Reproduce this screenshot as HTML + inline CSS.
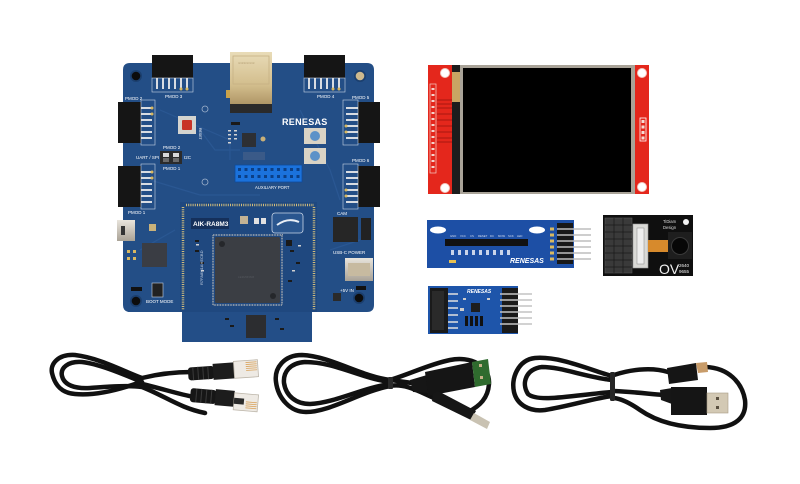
<!DOCTYPE html>
<html><head><meta charset="utf-8"><style>
html,body{margin:0;padding:0;background:#fff;width:800px;height:484px;overflow:hidden}
svg{display:block}
text{font-family:"Liberation Sans",sans-serif}
</style></head><body>
<svg width="800" height="484" viewBox="0 0 800 484" xmlns="http://www.w3.org/2000/svg">
<defs>
 <linearGradient id="eth" x1="0" y1="0" x2="0" y2="1"><stop offset="0" stop-color="#e9dcb8"/><stop offset="0.6" stop-color="#d2bd8c"/><stop offset="1" stop-color="#a88e5e"/></linearGradient>
 <linearGradient id="metal" x1="0" y1="0" x2="0" y2="1"><stop offset="0" stop-color="#e8e4dc"/><stop offset="1" stop-color="#a9a296"/></linearGradient>
 <linearGradient id="gold" x1="0" y1="0" x2="1" y2="0"><stop offset="0" stop-color="#e6d2a8"/><stop offset="1" stop-color="#b89868"/></linearGradient>
</defs>
<rect width="800" height="484" fill="#fff"/>

<!-- ================= MAIN BOARD ================= -->
<path d="M130,63 H367 Q374,63 374,70 V305 Q374,312 367,312 H317 V312 H312 V342 H182 V312 H130 Q123,312 123,305 V70 Q123,63 130,63 Z" fill="#234e86"/>
<!-- subtle traces -->
<g stroke="#2c5a96" stroke-width="1.2" fill="none" opacity="0.8">
 <path d="M160,110 L230,140 L230,160"/><path d="M150,180 L200,195 L260,195"/><path d="M300,110 L330,170 L340,200"/>
 <path d="M140,250 L175,230"/><path d="M330,250 L360,240"/><path d="M200,130 L215,150 L240,150"/>
</g>
<!-- mounting holes -->
<circle cx="136" cy="76" r="6" fill="#1b3f6f"/><circle cx="136" cy="76" r="4.3" fill="#0c0c0c"/>
<circle cx="360" cy="76" r="6" fill="#1b3f6f"/><circle cx="360" cy="76" r="4.3" fill="#cdb98e"/>
<circle cx="136" cy="301" r="6" fill="#1b3f6f"/><circle cx="136" cy="301" r="4.3" fill="#0c0c0c"/>
<circle cx="359" cy="298" r="6" fill="#1b3f6f"/><circle cx="359" cy="298" r="4.3" fill="#0c0c0c"/>

<!-- PMOD 3 top -->
<rect x="152" y="55" width="41" height="23" fill="#151515"/>
<rect x="152" y="78" width="41" height="14" fill="none" stroke="#c9d4e4" stroke-width="0.6"/>
<g stroke="#ececec" stroke-width="1.8"><line x1="157" y1="78" x2="157" y2="89"/><line x1="163" y1="78" x2="163" y2="89"/><line x1="169" y1="78" x2="169" y2="89"/><line x1="175" y1="78" x2="175" y2="89"/><line x1="181" y1="78" x2="181" y2="89"/><line x1="187" y1="78" x2="187" y2="89"/></g>
<circle cx="181" cy="89" r="1.5" fill="#d8b860"/><circle cx="187" cy="89" r="1.5" fill="#d8b860"/>
<text x="165" y="98" font-size="4.5" fill="#fff">PMOD 3</text>
<!-- PMOD 4 top -->
<rect x="304" y="55" width="41" height="23" fill="#151515"/>
<rect x="304" y="78" width="41" height="14" fill="none" stroke="#c9d4e4" stroke-width="0.6"/>
<g stroke="#ececec" stroke-width="1.8"><line x1="309" y1="78" x2="309" y2="89"/><line x1="315" y1="78" x2="315" y2="89"/><line x1="321" y1="78" x2="321" y2="89"/><line x1="327" y1="78" x2="327" y2="89"/><line x1="333" y1="78" x2="333" y2="89"/><line x1="339" y1="78" x2="339" y2="89"/></g>
<circle cx="333" cy="89" r="1.5" fill="#d8b860"/><circle cx="339" cy="89" r="1.5" fill="#d8b860"/>
<text x="317" y="98" font-size="4.5" fill="#fff">PMOD 4</text>
<!-- Ethernet -->
<rect x="226" y="90" width="5" height="8" fill="#c9a24a"/>
<rect x="230" y="52" width="42" height="56" fill="url(#eth)"/>
<rect x="233" y="56" width="36" height="28" fill="none" stroke="#c6b184" stroke-width="0.8"/>
<rect x="230" y="104" width="42" height="9" fill="#2a2a2a"/>
<text x="238" y="64" font-size="3" fill="#b9a47a">ЖЖЖЖЖЖ</text>

<!-- PMOD 2 left -->
<rect x="118" y="102" width="23" height="41" fill="#151515"/>
<rect x="141" y="100" width="14" height="45" fill="none" stroke="#c9d4e4" stroke-width="0.6"/>
<g stroke="#ececec" stroke-width="1.8"><line x1="141" y1="108" x2="152" y2="108"/><line x1="141" y1="114" x2="152" y2="114"/><line x1="141" y1="120" x2="152" y2="120"/><line x1="141" y1="126" x2="152" y2="126"/><line x1="141" y1="132" x2="152" y2="132"/><line x1="141" y1="138" x2="152" y2="138"/></g>
<circle cx="152" cy="108" r="1.5" fill="#d8b860"/><circle cx="152" cy="114" r="1.5" fill="#d8b860"/>
<text x="125" y="100" font-size="4.5" fill="#fff">PMOD 2</text>
<!-- PMOD 1 left -->
<rect x="118" y="166" width="23" height="41" fill="#151515"/>
<rect x="141" y="164" width="14" height="45" fill="none" stroke="#c9d4e4" stroke-width="0.6"/>
<g stroke="#ececec" stroke-width="1.8"><line x1="141" y1="172" x2="152" y2="172"/><line x1="141" y1="178" x2="152" y2="178"/><line x1="141" y1="184" x2="152" y2="184"/><line x1="141" y1="190" x2="152" y2="190"/><line x1="141" y1="196" x2="152" y2="196"/><line x1="141" y1="202" x2="152" y2="202"/></g>
<circle cx="152" cy="172" r="1.5" fill="#d8b860"/><circle cx="152" cy="178" r="1.5" fill="#d8b860"/>
<text x="128" y="214" font-size="4.5" fill="#fff">PMOD 1</text>
<!-- PMOD 5 right -->
<rect x="358" y="102" width="22" height="41" fill="#151515"/>
<rect x="343" y="100" width="15" height="45" fill="none" stroke="#c9d4e4" stroke-width="0.6"/>
<g stroke="#ececec" stroke-width="1.8"><line x1="346" y1="108" x2="358" y2="108"/><line x1="346" y1="114" x2="358" y2="114"/><line x1="346" y1="120" x2="358" y2="120"/><line x1="346" y1="126" x2="358" y2="126"/><line x1="346" y1="132" x2="358" y2="132"/><line x1="346" y1="138" x2="358" y2="138"/></g>
<circle cx="346" cy="126" r="1.5" fill="#d8b860"/><circle cx="346" cy="132" r="1.5" fill="#d8b860"/>
<text x="352" y="99" font-size="4.5" fill="#fff">PMOD 5</text>
<!-- PMOD 6 right -->
<rect x="358" y="166" width="22" height="41" fill="#151515"/>
<rect x="343" y="164" width="15" height="45" fill="none" stroke="#c9d4e4" stroke-width="0.6"/>
<g stroke="#ececec" stroke-width="1.8"><line x1="346" y1="172" x2="358" y2="172"/><line x1="346" y1="178" x2="358" y2="178"/><line x1="346" y1="184" x2="358" y2="184"/><line x1="346" y1="190" x2="358" y2="190"/><line x1="346" y1="196" x2="358" y2="196"/><line x1="346" y1="202" x2="358" y2="202"/></g>
<circle cx="346" cy="190" r="1.5" fill="#d8b860"/><circle cx="346" cy="196" r="1.5" fill="#d8b860"/>
<text x="352" y="162" font-size="4.5" fill="#fff">PMOD 6</text>

<!-- reset -->
<rect x="178" y="116" width="18" height="18" fill="#d4d4cf"/>
<rect x="182" y="120" width="10" height="10" fill="#c83428" rx="1"/>
<text x="199" y="128" font-size="3.5" fill="#fff" transform="rotate(90 199 128)">RESET</text>
<!-- UART/SPI switch -->
<rect x="160" y="151" width="22" height="13" fill="#2b2b2b"/>
<rect x="163" y="153" width="6" height="4" fill="#d8d8d8"/><rect x="173" y="153" width="6" height="4" fill="#d8d8d8"/>
<rect x="163" y="158" width="6" height="4" fill="#6a6a6a"/><rect x="173" y="158" width="6" height="4" fill="#6a6a6a"/>
<text x="163" y="149" font-size="4.5" fill="#fff">PMOD 2</text>
<text x="136" y="159" font-size="4.5" fill="#fff">UART / SPI</text>
<text x="184" y="159" font-size="4.5" fill="#fff">I2C</text>
<text x="163" y="170" font-size="4.5" fill="#fff">PMOD 1</text>
<!-- center ICs -->
<rect x="242" y="133" width="14" height="14" fill="#2d2f33"/>
<rect x="231" y="122" width="9" height="3" fill="#1a1a1a"/>
<circle cx="263" cy="139" r="2.5" fill="#c8b078"/>
<g fill="#d4d4d4"><rect x="228" y="130" width="3" height="1.5"/><rect x="228" y="134" width="3" height="1.5"/><rect x="228" y="138" width="3" height="1.5"/><rect x="228" y="142" width="3" height="1.5"/><rect x="234" y="130" width="3" height="1.5"/><rect x="234" y="134" width="3" height="1.5"/><rect x="234" y="138" width="3" height="1.5"/></g>
<rect x="243" y="152" width="22" height="8" fill="#3a5a88"/>
<!-- RENESAS logo -->
<text x="282" y="125" font-size="9" font-weight="bold" fill="#fff" letter-spacing="0.3">RENESAS</text>
<!-- blue buttons -->
<rect x="304" y="128" width="22" height="16" fill="#d9d3c5"/><circle cx="315" cy="136" r="5" fill="#5d92c8"/>
<rect x="304" y="148" width="22" height="16" fill="#d9d3c5"/><circle cx="315" cy="156" r="5" fill="#5d92c8"/>
<!-- aux port -->
<rect x="235" y="165" width="67" height="17" fill="#1b72dc" stroke="#0f4c9a" stroke-width="0.8"/>
<g fill="#0b3f86">
<rect x="238" y="168" width="3" height="3"/><rect x="244.5" y="168" width="3" height="3"/><rect x="251" y="168" width="3" height="3"/><rect x="257.5" y="168" width="3" height="3"/><rect x="264" y="168" width="3" height="3"/><rect x="270.5" y="168" width="3" height="3"/><rect x="277" y="168" width="3" height="3"/><rect x="283.5" y="168" width="3" height="3"/><rect x="290" y="168" width="3" height="3"/><rect x="296.5" y="168" width="3" height="3"/>
<rect x="238" y="175" width="3" height="3"/><rect x="244.5" y="175" width="3" height="3"/><rect x="251" y="175" width="3" height="3"/><rect x="257.5" y="175" width="3" height="3"/><rect x="264" y="175" width="3" height="3"/><rect x="270.5" y="175" width="3" height="3"/><rect x="277" y="175" width="3" height="3"/><rect x="283.5" y="175" width="3" height="3"/><rect x="290" y="175" width="3" height="3"/><rect x="296.5" y="175" width="3" height="3"/>
</g>
<text x="255" y="189" font-size="4.2" fill="#fff">AUXILIARY PORT</text>
<circle cx="205" cy="182" r="3" fill="none" stroke="#9fb2cc" stroke-width="0.8"/>
<circle cx="205" cy="109" r="3" fill="none" stroke="#9fb2cc" stroke-width="0.8"/>

<!-- left lower area -->
<rect x="117" y="220" width="18" height="21" fill="url(#metal)"/>
<rect x="121" y="226" width="4" height="9" fill="#333"/>
<rect x="142" y="243" width="25" height="24" fill="#3a3d44"/>
<rect x="149" y="224" width="7" height="7" fill="#c9b27a"/>
<g fill="#d8b860"><rect x="127" y="250" width="3" height="3"/><rect x="133" y="250" width="3" height="3"/><rect x="127" y="257" width="3" height="3"/><rect x="133" y="257" width="3" height="3"/></g>
<rect x="131" y="287" width="11" height="4" fill="#111"/>
<rect x="152" y="283" width="11" height="14" fill="#222" stroke="#c9d4e4" stroke-width="0.6"/>
<text x="146" y="303" font-size="4.5" fill="#fff">BOOT MODE</text>

<!-- right lower area -->
<rect x="333" y="217" width="25" height="25" fill="#262626"/>
<rect x="361" y="218" width="10" height="22" fill="#222"/>
<text x="337" y="215" font-size="4.5" fill="#fff">CAM</text>
<text x="333" y="254" font-size="4.5" fill="#fff">USB-C POWER</text>
<rect x="345" y="258" width="28" height="23" fill="url(#metal)"/>
<rect x="348" y="263" width="22" height="13" fill="#c7baa0"/>
<text x="340" y="292" font-size="4.5" fill="#fff">+5V IN</text>
<rect x="356" y="286" width="10" height="4" fill="#111"/>
<rect x="333" y="293" width="8" height="8" fill="#2a2a2a"/>

<!-- ======== MODULE ======== -->
<rect x="180" y="202" width="137" height="110" fill="#1f487f"/>
<rect x="182" y="312" width="130" height="30" fill="#234e87"/>
<g stroke="#d2bd7c" stroke-width="2.5" stroke-dasharray="1 1.2" fill="none">
 <line x1="183" y1="207" x2="183" y2="310"/>
 <line x1="186" y1="205" x2="314" y2="205"/>
 <line x1="314" y1="207" x2="314" y2="310"/>
</g>
<rect x="191" y="218" width="38" height="11" fill="#15305b"/>
<text x="193" y="226" font-size="6.5" font-weight="bold" fill="#fff">AIK-RA8M3</text>
<rect x="272" y="213" width="31" height="20" rx="3" fill="#2a568f" stroke="#c9d5e6" stroke-width="0.8"/>
<path d="M277,225 Q288,217 299,222" stroke="#e8eef6" stroke-width="2" fill="none"/>
<rect x="240" y="216" width="8" height="8" fill="#c2b294"/>
<rect x="254" y="218" width="5" height="6" fill="#e0e0e0"/><rect x="261" y="218" width="5" height="6" fill="#e0e0e0"/>
<!-- MCU -->
<rect x="213" y="235" width="69" height="70" fill="none" stroke="#9aa2ac" stroke-width="2" stroke-dasharray="0.8 0.8"/>
<rect x="215" y="237" width="65" height="66" fill="#3b3e44" rx="1.5"/>
<circle cx="222" cy="244" r="3" fill="#25272b"/><circle cx="273" cy="296" r="3" fill="#25272b"/>
<text x="238" y="278" font-size="3" fill="#55585e">LE3M3NSM</text>
<!-- misc smd -->
<g fill="#1a1a1a"><rect x="195" y="240" width="4" height="2"/><rect x="195" y="250" width="4" height="2"/><rect x="200" y="262" width="4" height="2"/><rect x="290" y="250" width="4" height="2"/><rect x="296" y="262" width="4" height="2"/><rect x="288" y="280" width="4" height="2"/><rect x="286" y="240" width="6" height="6"/></g>
<g fill="#d0d0d0"><rect x="196" y="244" width="3" height="1.5"/><rect x="201" y="270" width="3" height="1.5"/><rect x="292" y="270" width="3" height="1.5"/><rect x="298" y="245" width="3" height="1.5"/></g>
<text x="203" y="285" font-size="4" fill="#c9d4e4" transform="rotate(-90 203 285)">R7FA8M1AHECBD</text>
<!-- tab chip -->
<rect x="246" y="315" width="20" height="23" fill="#2c2d30"/>
<g fill="#1a1a1a"><rect x="225" y="318" width="4" height="2"/><rect x="230" y="325" width="4" height="2"/><rect x="275" y="318" width="4" height="2"/><rect x="280" y="328" width="4" height="2"/></g>

<!-- ================= LCD ================= -->
<rect x="428" y="65" width="221" height="129" fill="#e4271c"/>
<rect x="452" y="65" width="10" height="129" fill="#1d1d1d"/>
<rect x="452" y="72" width="9" height="30" fill="#c9a563"/>
<rect x="460" y="65" width="175" height="129" fill="#a9a398"/>
<rect x="463" y="68" width="168" height="124" fill="#000"/>
<g fill="#fff" stroke="#f3c8c0" stroke-width="1"><circle cx="445" cy="73" r="4.5"/><circle cx="445" cy="188" r="4.5"/><circle cx="642" cy="73" r="4.5"/><circle cx="642" cy="187" r="4.5"/></g>
<rect x="430" y="84" width="6" height="89" fill="none" stroke="#f4d0c8" stroke-width="0.7"/>
<g fill="#f4d6ce"><rect x="431.5" y="88" width="3" height="2"/><rect x="431.5" y="94" width="3" height="2"/><rect x="431.5" y="100" width="3" height="2"/><rect x="431.5" y="106" width="3" height="2"/><rect x="431.5" y="112" width="3" height="2"/><rect x="431.5" y="118" width="3" height="2"/><rect x="431.5" y="124" width="3" height="2"/><rect x="431.5" y="130" width="3" height="2"/><rect x="431.5" y="136" width="3" height="2"/><rect x="431.5" y="142" width="3" height="2"/><rect x="431.5" y="148" width="3" height="2"/><rect x="431.5" y="154" width="3" height="2"/><rect x="431.5" y="160" width="3" height="2"/><rect x="431.5" y="166" width="3" height="2"/></g>
<g stroke="#a8170f" stroke-width="1"><line x1="437" y1="100" x2="452" y2="100"/><line x1="437" y1="104" x2="452" y2="104"/><line x1="437" y1="108" x2="452" y2="108"/><line x1="437" y1="114" x2="452" y2="114"/><line x1="437" y1="120" x2="452" y2="120"/><line x1="437" y1="126" x2="452" y2="126"/><line x1="437" y1="132" x2="452" y2="132"/><line x1="437" y1="138" x2="452" y2="138"/><line x1="437" y1="142" x2="452" y2="142"/></g>
<rect x="640" y="118" width="6" height="23" fill="none" stroke="#fff" stroke-width="0.8"/>
<g fill="#f6ddd6"><rect x="641.5" y="120" width="3" height="3"/><rect x="641.5" y="125.5" width="3" height="3"/><rect x="641.5" y="131" width="3" height="3"/><rect x="641.5" y="136.5" width="3" height="3"/></g>

<!-- ================= BLUE LONG BOARD ================= -->
<rect x="427" y="220" width="147" height="48" fill="#1d4fa5"/>
<ellipse cx="438" cy="230" rx="8" ry="3.5" fill="#fff"/>
<ellipse cx="537" cy="230" rx="8" ry="3.5" fill="#fff"/>
<rect x="445" y="239" width="83" height="7" fill="#111"/>
<g fill="#c9d4ea"><rect x="451" y="250" width="3" height="5"/><rect x="458" y="250" width="3" height="5"/><rect x="465" y="250" width="3" height="5"/><rect x="472" y="250" width="3" height="5"/><rect x="479" y="250" width="3" height="5"/><rect x="486" y="250" width="3" height="5"/><rect x="493" y="250" width="3" height="5"/><rect x="500" y="250" width="3" height="5"/><rect x="507" y="250" width="3" height="5"/></g>
<g fill="#d4dcee" font-size="2.8"><text x="450" y="237">GND</text><text x="460" y="237">VCC</text><text x="470" y="237">CS</text><text x="478" y="237">RESET</text><text x="490" y="237">DC</text><text x="498" y="237">MOSI</text><text x="508" y="237">SCK</text><text x="517" y="237">LED</text></g>
<text x="510" y="263" font-size="7" font-weight="bold" font-style="italic" fill="#fff">RENESAS</text>
<rect x="449" y="260" width="7" height="3" fill="#e8c050"/>
<rect x="557" y="223" width="16" height="41" fill="#181818"/>
<g stroke="#bdbdbd" stroke-width="1.6"><line x1="557" y1="229" x2="591" y2="229"/><line x1="557" y1="235" x2="591" y2="235"/><line x1="557" y1="241" x2="591" y2="241"/><line x1="557" y1="247" x2="591" y2="247"/><line x1="557" y1="253" x2="591" y2="253"/><line x1="557" y1="259" x2="591" y2="259"/></g>
<g fill="#d8b860"><rect x="550" y="227.5" width="4" height="3"/><rect x="550" y="233.5" width="4" height="3"/><rect x="550" y="239.5" width="4" height="3"/><rect x="550" y="245.5" width="4" height="3"/><rect x="550" y="251.5" width="4" height="3"/><rect x="550" y="257.5" width="4" height="3"/></g>

<!-- ================= SMALL PMOD BOARD ================= -->
<rect x="428" y="286" width="90" height="48" fill="#1e55aa"/>
<rect x="430" y="288" width="18" height="45" fill="#1a1a1a"/>
<rect x="432" y="291" width="12" height="39" fill="#2a2a2a"/>
<g stroke="#e0e0e0" stroke-width="1.5"><line x1="448" y1="294" x2="458" y2="294"/><line x1="448" y1="301" x2="458" y2="301"/><line x1="448" y1="308" x2="458" y2="308"/><line x1="448" y1="315" x2="458" y2="315"/><line x1="448" y1="322" x2="458" y2="322"/><line x1="448" y1="328" x2="458" y2="328"/></g>
<text x="467" y="293" font-size="5" font-weight="bold" font-style="italic" fill="#fff">RENESAS</text>
<rect x="471" y="303" width="9" height="9" fill="#1d1d1d"/>
<g fill="#111"><rect x="465" y="316" width="3" height="10"/><rect x="470" y="316" width="3" height="10"/><rect x="475" y="316" width="3" height="10"/><rect x="480" y="316" width="3" height="10"/></g>
<g fill="#ccc"><rect x="463" y="298" width="3" height="2"/><rect x="487" y="298" width="3" height="2"/><rect x="460" y="308" width="4" height="3"/></g>
<rect x="502" y="288" width="16" height="45" fill="#1a1a1a"/>
<g stroke="#c4c4c4" stroke-width="1.6"><line x1="500" y1="294" x2="532" y2="294"/><line x1="500" y1="300" x2="532" y2="300"/><line x1="500" y1="306" x2="532" y2="306"/><line x1="500" y1="312" x2="532" y2="312"/><line x1="500" y1="318" x2="532" y2="318"/><line x1="500" y1="324" x2="532" y2="324"/></g>

<!-- ================= CAMERA ================= -->
<rect x="603" y="215" width="90" height="61" fill="#0f0f0f"/>
<g stroke="#555" stroke-width="0.6" fill="#3a3a3a">
 <rect x="605" y="218" width="27" height="55"/>
</g>
<g stroke="#1a1a1a" stroke-width="0.7">
 <line x1="614" y1="218" x2="614" y2="273"/><line x1="623" y1="218" x2="623" y2="273"/>
 <line x1="605" y1="225" x2="632" y2="225"/><line x1="605" y1="232" x2="632" y2="232"/><line x1="605" y1="239" x2="632" y2="239"/><line x1="605" y1="246" x2="632" y2="246"/><line x1="605" y1="253" x2="632" y2="253"/><line x1="605" y1="260" x2="632" y2="260"/><line x1="605" y1="267" x2="632" y2="267"/>
</g>
<rect x="633" y="224" width="15" height="44" fill="#d9d9d6" stroke="#999" stroke-width="0.6"/>
<rect x="637" y="228" width="7" height="36" fill="#eee" stroke="#888" stroke-width="0.5"/>
<rect x="648" y="240" width="22" height="12" fill="#d78a2c"/>
<rect x="668" y="232" width="24" height="27" fill="#1e1e1e"/>
<circle cx="680" cy="246" r="8.5" fill="#070707" stroke="#3a3a3a" stroke-width="1"/>
<circle cx="686" cy="222" r="3" fill="#f2f2f2"/>
<text x="663" y="223" font-size="4.2" fill="#ddd">TiDiam</text>
<text x="663" y="229" font-size="4.2" fill="#ddd">Design</text>
<text x="659" y="274" font-size="14" fill="#f2f2f2">OV</text>
<text x="679" y="267" font-size="4.5" fill="#f2f2f2">2640</text>
<text x="679" y="273" font-size="4.5" fill="#f2f2f2">9655</text>

<!-- ================= ETHERNET CABLE ================= -->
<g fill="none" stroke="#111" stroke-width="4.5" stroke-linecap="round">
 <path d="M192,372 C175,372 158,374 142,378 C125,372 100,358 75,355 C58,354 50,364 52,373 C55,386 62,393 75,394 C95,396 118,390 138,383 C160,388 178,394 194,397"/>
 <path d="M142,382 C125,375 100,364 82,362 C68,361 60,368 62,376 C64,385 75,389 90,388 C105,387 125,385 142,387 C165,396 180,408 205,413"/>
</g>
<!-- top RJ45 -->
<g transform="rotate(-4 225 370)">
 <rect x="188" y="365" width="26" height="13" rx="3" fill="#161616"/>
 <g stroke="#3a3a3a" stroke-width="1"><line x1="193" y1="365" x2="193" y2="378"/><line x1="198" y1="365" x2="198" y2="378"/><line x1="203" y1="365" x2="203" y2="378"/><line x1="208" y1="365" x2="208" y2="378"/></g>
 <rect x="213" y="363" width="21" height="16" fill="#1c1c1c"/>
 <rect x="234" y="362" width="24" height="17" fill="#eeeae4" stroke="#bdb6aa" stroke-width="0.8"/>
 <g stroke="#d9a35c" stroke-width="0.8"><line x1="246" y1="364" x2="257" y2="364"/><line x1="246" y1="366" x2="257" y2="366"/><line x1="246" y1="368" x2="257" y2="368"/><line x1="246" y1="370" x2="257" y2="370"/><line x1="246" y1="372" x2="257" y2="372"/></g>
</g>
<!-- bottom RJ45 -->
<g transform="rotate(5 225 400)">
 <rect x="190" y="391" width="26" height="14" rx="3" fill="#161616"/>
 <g stroke="#3a3a3a" stroke-width="1"><line x1="196" y1="391" x2="196" y2="405"/><line x1="201" y1="391" x2="201" y2="405"/><line x1="206" y1="391" x2="206" y2="405"/><line x1="211" y1="391" x2="211" y2="405"/></g>
 <rect x="215" y="390" width="19" height="16" fill="#1c1c1c"/>
 <rect x="234" y="392" width="24" height="17" fill="#eeeae4" stroke="#bdb6aa" stroke-width="0.8"/>
 <g stroke="#d9a35c" stroke-width="0.8"><line x1="246" y1="400" x2="257" y2="400"/><line x1="246" y1="402" x2="257" y2="402"/><line x1="246" y1="404" x2="257" y2="404"/><line x1="246" y1="406" x2="257" y2="406"/></g>
 <rect x="234" y="397" width="10" height="6" fill="#2a2a2a"/>
</g>

<!-- ================= USB-C CABLE ================= -->
<g fill="none" stroke="#111" stroke-width="4.5" stroke-linecap="round">
 <path d="M420,384 C410,383 400,381 390,380 C360,376 330,356 302,355 C284,355 274,368 276,382 C278,398 290,412 306,412 C330,412 360,392 390,386 C405,383 420,392 434,398"/>
 <path d="M390,382 C360,378 335,362 305,362 C290,363 283,372 284,383 C286,396 296,404 310,404 C335,403 362,388 390,384"/>
 <path d="M390,380 C410,374 430,364 450,360 C470,356 490,365 489,384 C488,398 480,406 468,412"/>
</g>
<rect x="388" y="377" width="5" height="12" rx="1" fill="#2a2a2a"/>
<!-- USB-A -->
<path d="M410,380 L427,375 L430,393 L413,392 Z" fill="#161616"/>
<path d="M425,372 L472,362 L475,387 L428,396 Z" fill="#151515"/>
<path d="M472,362 L488,359 L491,384 L475,387 Z" fill="#2f6b2e"/>
<rect x="479" y="364" width="3" height="3" fill="#c7b189"/><rect x="480" y="376" width="3" height="3" fill="#c7b189"/>
<!-- USB-C plug -->
<path d="M433,394 L438,391 L476,411 L471,420 L432,401 Z" fill="#161616"/>
<path d="M474,413 L490,422 L487,429 L470,420 Z" fill="#c9c2b2"/>

<!-- ================= MICRO USB CABLE ================= -->
<g fill="none" stroke="#111" stroke-width="4.5" stroke-linecap="round">
 <path d="M612,376 C590,370 560,356 535,358 C518,360 511,378 514,392 C517,405 530,412 545,410 C570,406 595,398 612,396"/>
 <path d="M612,380 C585,377 562,367 542,367 C526,369 521,383 528,394 C538,403 575,395 612,392"/>
 <path d="M614,375 C635,368 655,368 668,372"/>
 <path d="M614,391 C635,392 650,394 664,395"/>
 <path d="M706,367 C728,368 742,382 745,400 C747,418 735,428 710,428 C685,428 660,424 640,410 C630,403 622,399 614,398"/>
</g>
<rect x="610" y="372" width="5" height="29" rx="1.5" fill="#262626"/>
<path d="M667,368 L696,363 L698,380 L669,384 Z" fill="#151515"/>
<path d="M696,363 L707,362 L708,372 L698,373 Z" fill="#c89c6a"/>
<path d="M660,390 L672,388 L672,404 L661,400 Z" fill="#161616"/>
<rect x="671" y="387" width="36" height="28" fill="#151515"/>
<rect x="707" y="393" width="21" height="20" fill="#d3c9b4" stroke="#a89c86" stroke-width="0.6"/>
<rect x="716" y="397" width="3" height="3" fill="#5a5040"/><rect x="716" y="406" width="3" height="3" fill="#5a5040"/>
</svg>
</body></html>
